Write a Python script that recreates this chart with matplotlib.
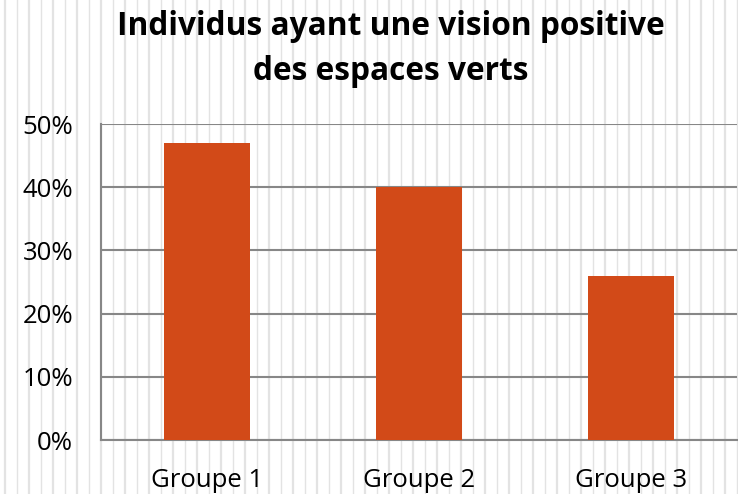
import matplotlib
matplotlib.use("Agg")
import matplotlib.pyplot as plt
from matplotlib.lines import Line2D
from matplotlib.ticker import PercentFormatter
import numpy as np

groups = ["Groupe 1", "Groupe 2", "Groupe 3"]
share = [47, 40, 26]
yticks = [0, 10, 20, 30, 40, 50]

plt.rcParams['font.family'] = ['Open Sans', 'DejaVu Sans']

W, H = 738, 494
fig = plt.figure(figsize=(W / 100, H / 100), dpi=100)
fig.patch.set_facecolor("white")

# light vertical stripe pattern behind everything
for i, xp in enumerate(np.arange(4.7, W, 12.0)):
    lw = 1.6 if i % 2 == 0 else 1.0
    fig.add_artist(Line2D([xp / W, xp / W], [0, 1], transform=fig.transFigure,
                          color="#e3e3e3", lw=lw, zorder=-5))

ax = fig.add_axes([101 / W, (H - 440) / H, 636 / W, 316 / H])
ax.set_facecolor("none")

x = np.arange(len(groups))
ax.bar(x, share, width=0.405, color="#d24a18", zorder=3)

ax.set_xlim(-0.5, 2.5)
ax.set_ylim(0, 50)
ax.set_yticks(yticks)
ax.yaxis.set_major_formatter(PercentFormatter(decimals=0))
ax.set_xticks(x)
ax.set_xticklabels(groups)
ax.yaxis.grid(True, color="#878787", lw=1.5, zorder=1)
ax.set_axisbelow(True)
for s in ["top", "right"]:
    ax.spines[s].set_visible(False)
for s in ["left", "bottom"]:
    ax.spines[s].set_color("#878787")
    ax.spines[s].set_linewidth(1.5)
ax.tick_params(axis="both", length=0, labelsize=18.5, colors="black")
ax.tick_params(axis="y", pad=20)
ax.tick_params(axis="x", pad=20)

fig.text(391 / W, 1 - 49 / H, "Individus ayant une vision positive\ndes espaces verts",
         ha="center", va="center", fontsize=22.8, fontweight="bold", linespacing=1.45)

fig.savefig("out.png", dpi=100)
